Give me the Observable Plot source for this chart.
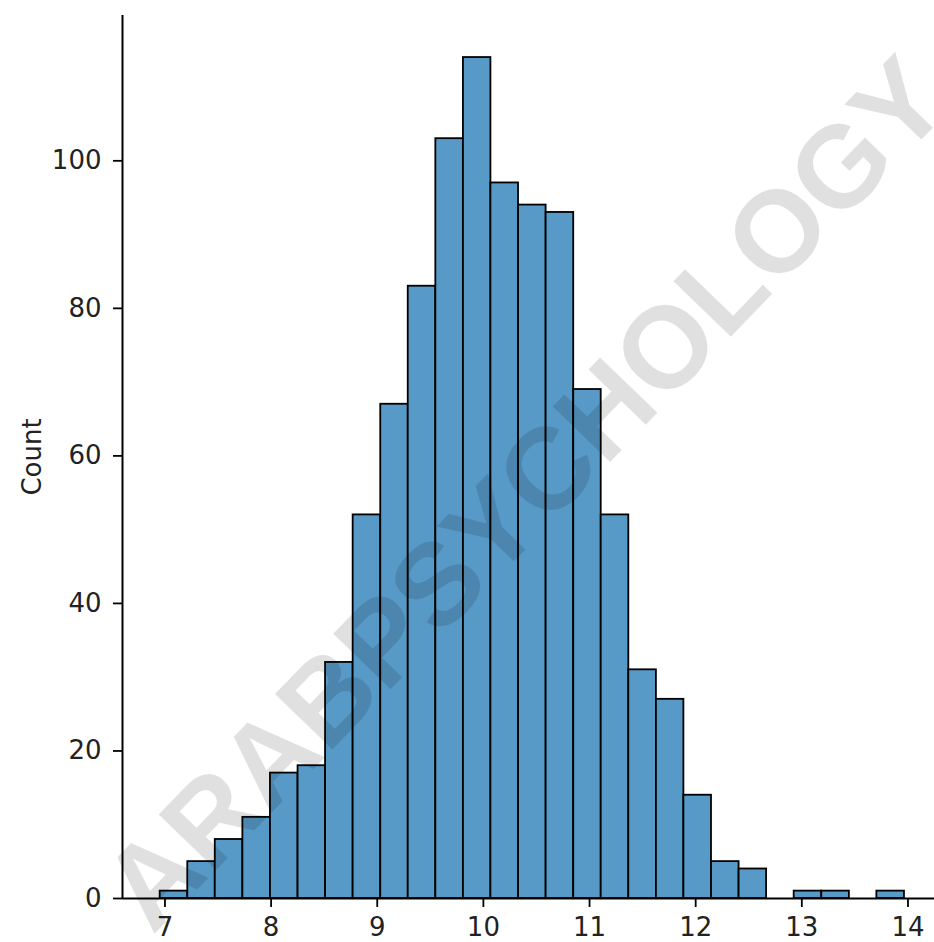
<!DOCTYPE html>
<html>
<head>
<meta charset="utf-8">
<script src="https://cdn.jsdelivr.net/npm/d3@7"></script>
<script src="https://cdn.jsdelivr.net/npm/@observablehq/plot@0.6"></script>
<style>
  html, body { margin: 0; padding: 0; background: #fff; }
  #chart svg { display: block; }
</style>
</head>
<body>
<div id="chart"></div>
<script>
// Histogram bin edges (28 edges -> 27 bins)
const binEdges = [6.955, 7.215, 7.474, 7.734, 7.994, 8.254, 8.513, 8.773, 9.033, 9.292,
  9.552, 9.812, 10.071, 10.331, 10.591, 10.851, 11.110, 11.370, 11.630, 11.889,
  12.149, 12.409, 12.668, 12.928, 13.188, 13.448, 13.707, 13.967];
// Count per bin
const counts = [1, 5, 8, 11, 17, 18, 32, 52, 67, 83, 103, 114, 97, 94, 93, 69, 52, 31, 27, 14,
  5, 4, 0, 1, 1, 0, 1];
const xTicks = [7, 8, 9, 10, 11, 12, 13, 14];
const yTicks = [0, 20, 40, 60, 80, 100];
const xDomain = [6.60, 14.25];
const yDomain = [0, 119.7];
const yLabel = "Count";
const watermark = ["ARABPSYCHOLOGY"];

const bins = counts.map((c, i) => ({x1: binEdges[i], x2: binEdges[i + 1], count: c}));

const chart = Plot.plot({
  width: 934,
  height: 942,
  marginLeft: 122,
  marginRight: 0,
  marginTop: 15,
  marginBottom: 44,
  style: {fontFamily: "DejaVu Sans", fontSize: "26px", background: "#fff", color: "#222"},
  x: {domain: xDomain},
  y: {domain: yDomain},
  marks: [
    Plot.rectY(bins, {x1: "x1", x2: "x2", y: "count", fill: "#5799c7", stroke: "#000", strokeWidth: 1.8}),
    Plot.ruleX([xDomain[0]], {stroke: "#000", strokeWidth: 2}),
    Plot.ruleY([0], {stroke: "#000", strokeWidth: 2}),
    Plot.axisX({ticks: xTicks, tickSize: 9, tickPadding: 10, strokeWidth: 1.8, stroke: "#000", label: null, fontSize: 26}),
    Plot.axisY({ticks: yTicks, tickSize: 9, tickPadding: 12, strokeWidth: 1.8, stroke: "#000", label: yLabel,
      labelAnchor: "center", labelArrow: "none", labelOffset: 100, fontSize: 26}),
    Plot.text(watermark, {text: d => d, frameAnchor: "middle", rotate: -46, dx: -2, dy: 38,
      fontSize: 116, fontWeight: "bold", fontFamily: "Liberation Sans", fill: "#000", fillOpacity: 0.12})
  ]
});
document.getElementById("chart").appendChild(chart);
</script>
</body>
</html>
